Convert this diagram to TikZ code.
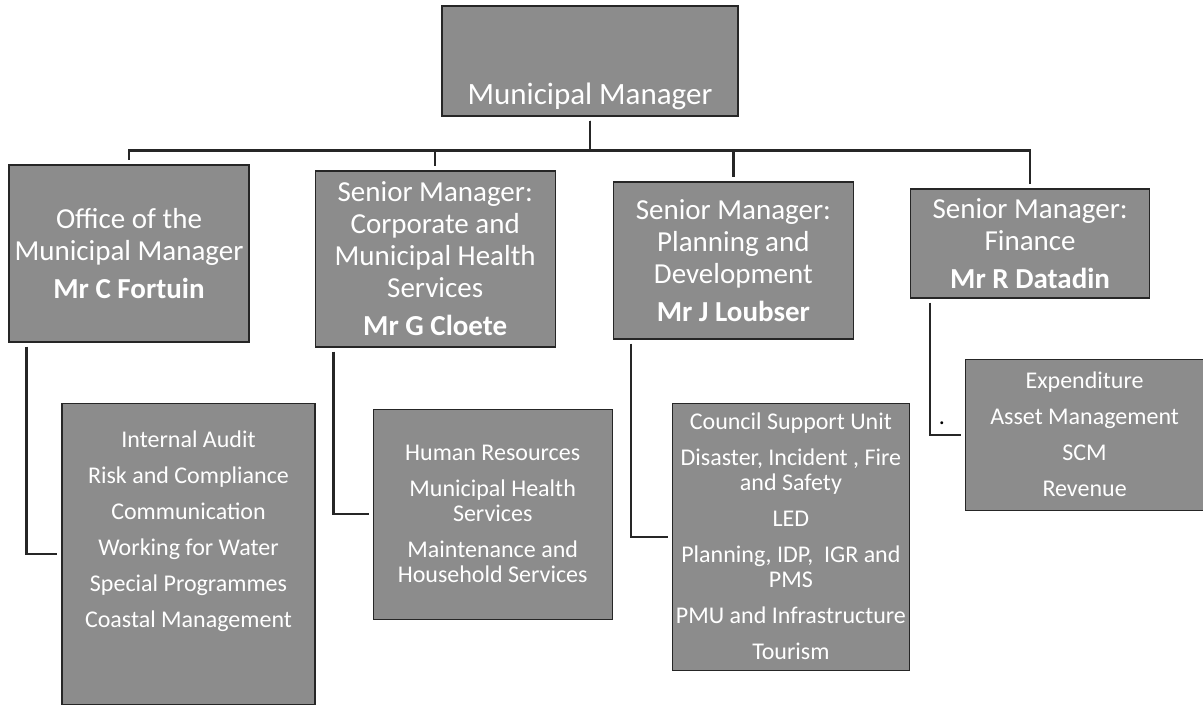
\documentclass[tikz,border=0pt]{standalone}
\usepackage{fontspec}
\setmainfont{Carlito}
\usetikzlibrary{positioning}
\definecolor{boxgray}{gray}{0.55}
\definecolor{linegray}{gray}{0.15}

\begin{document}
\begin{tikzpicture}[
  x=1pt, y=-1pt,
  unit/.style={rectangle, draw=linegray, line width=1.2pt, fill=boxgray, text=white, align=flush center, inner xsep=1pt, inner ysep=0pt},
  head/.style={unit, font=\fontsize{29}{32}\selectfont},
  dept/.style={unit, font=\fontsize{24}{25}\selectfont},
  link/.style={draw=linegray, line width=2.4pt, shorten <=4pt, shorten >=4pt}
]
\useasboundingbox (0,0) rectangle (1203,706);

\node[unit, font=\fontsize{31}{36}\selectfont, minimum width=296pt, text height=99pt, text depth=11pt] (mm) at (590,61) {Municipal Manager};

% senior managers
\node[head, minimum width=240pt, minimum height=177pt, text width=236pt] (office) at (129,253.5)
  {Office of the\\ Municipal Manager\\[6pt] \textbf{Mr C Fortuin}};
\node[head, minimum width=240pt, minimum height=176pt, text width=236pt, right=65pt of office, yshift=-5.5pt] (corp)
  {Senior Manager:\\ Corporate and\\ Municipal Health\\ Services\\[6pt] \textbf{Mr G Cloete}};
\node[head, minimum width=240pt, minimum height=157pt, text width=236pt, right=57pt of corp, yshift=-1.5pt] (plan)
  {Senior Manager:\\ Planning and\\ Development\\[6pt] \textbf{Mr J Loubser}};
\node[head, minimum width=239pt, minimum height=109pt, text width=235pt, right=56pt of plan, yshift=17pt] (fin)
  {Senior Manager:\\ Finance\\[6pt] \textbf{Mr R Datadin}};

% sections
\node[dept, minimum width=253pt, minimum height=301pt, text width=249pt, below=60pt of office, xshift=59.5pt] (audit)
  {Internal Audit\\[11pt] Risk and Compliance\\[11pt] Communication\\[11pt] Working for Water\\[11pt] Special Programmes\\[11pt] Coastal Management\rule[-49pt]{0pt}{0pt}};
\node[dept, minimum width=239pt, minimum height=210pt, text width=235pt, below=61pt of corp, xshift=57.5pt] (hr)
  {Human Resources\\[11pt] Municipal Health\\ Services\\[11pt] Maintenance and\\ Household Services};
\node[dept, minimum width=237pt, minimum height=267pt, text width=235pt, below=63pt of plan, xshift=57.5pt] (council)
  {Council Support Unit\\[11pt] Disaster, Incident , Fire\\ and Safety\\[11pt] LED\\[11pt] Planning, IDP, \ IGR and\\ PMS\\[11pt] PMU and Infrastructure\\[11pt] Tourism};
\node[dept, minimum width=238pt, minimum height=151pt, text width=234pt, below=60pt of fin, xshift=54.5pt] (expend)
  {Expenditure\\[11pt] Asset Management\\[11pt] SCM\\[11pt] Revenue};
\node[font=\fontsize{24}{25}\selectfont, inner sep=0pt] (stray) at (942,423) {.};

\draw[link] (mm.south) -- ++(0,-34pt) -| (office.north);
\draw[link] (mm.south) -- ++(0,-34pt) -| (corp.north);
\draw[link] (mm.south) -- ++(0,-34pt) -| (plan.north);
\draw[link] (mm.south) -- ++(0,-34pt) -| (fin.north);

\draw[link] ([xshift=18pt]office.south west) |- (audit.west);
\draw[link] ([xshift=19pt]corp.south west) |- (hr.west);
\draw[link] ([xshift=18pt]plan.south west) |- (council.west);
\draw[link] ([xshift=20pt]fin.south west) |- (expend.west);
\end{tikzpicture}
\end{document}
